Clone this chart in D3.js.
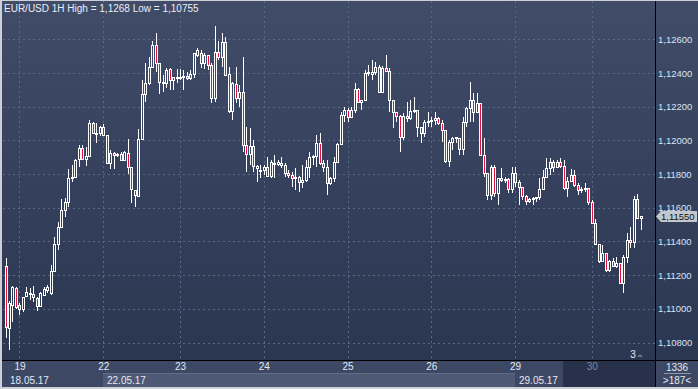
<!DOCTYPE html>
<html>
<head>
<meta charset="utf-8">
<script src="https://cdn.jsdelivr.net/npm/d3@7"></script>
<style>
body{margin:0;background:#cdd0d6;overflow:hidden}
text{font-family:"Liberation Sans",Arial,sans-serif}
</style>
</head>
<body>
<svg id="chart" width="698" height="389"></svg>
<script>
// EUR/USD hourly candles, 18.05.17 20:00 -> 30.05.17 14:00
const title="EUR/USD 1H High = 1,1268 Low = 1,10755"
const dayLabels=["18","19","22","23","24","25","26","29","30"]
const dayCandles=[4,24,22,24,24,24,24,22,15]
const weekLabels=["18.05.17","22.05.17","29.05.17"]
const weekFirstDay=[0,2,7]
const yTicks=[1.108,1.110,1.112,1.114,1.116,1.118,1.120,1.122,1.124,1.126]
const barCount="1336"
const visibleBars=">187<"

const open=[
1.11255,1.10888,1.11024,1.11125,1.11024,1.11001,1.11077,1.11095,1.11089,1.11066,
1.11018,1.11083,1.11113,1.11095,1.11226,1.11386,1.11486,1.11588,1.11635,1.11778,
1.11784,1.11891,1.11956,1.11891,1.11908,1.12103,1.12044,1.12044,1.12079,1.12032,
1.11866,1.11926,1.11914,1.11920,1.11884,1.11926,1.11842,1.11706,1.11670,1.12009,
1.12275,1.12341,1.12435,1.12566,1.12459,1.12347,1.12341,1.12424,1.12359,1.12376,
1.12376,1.12376,1.12382,1.12371,1.12394,1.12507,1.12519,1.12459,1.12507,1.12447,
1.12252,1.12525,1.12495,1.12584,1.12394,1.12175,1.12335,1.12252,1.12287,1.11973,
1.11920,1.11967,1.11837,1.11819,1.11825,1.11842,1.11789,1.11866,1.11860,1.11866,
1.11854,1.11807,1.11795,1.11778,1.11784,1.11754,1.11766,1.11842,1.11902,1.11908,
1.11985,1.11866,1.11842,1.11748,1.11778,1.11872,1.11979,1.12151,1.12181,1.12139,
1.12181,1.12305,1.12228,1.12240,1.12400,1.12394,1.12406,1.12435,1.12287,1.12430,
1.12412,1.12240,1.12169,1.12145,1.12020,1.12145,1.12133,1.12175,1.12181,1.12079,
1.12044,1.12109,1.12115,1.12121,1.12133,1.12103,1.12062,1.11878,1.11991,1.12015,
1.12015,1.11950,1.12109,1.12193,1.12240,1.12169,1.12222,1.11914,1.11807,1.11676,
1.11842,1.11688,1.11778,1.11766,1.11772,1.11713,1.11807,1.11754,1.11724,1.11670,
1.11641,1.11653,1.11659,1.11664,1.11713,1.11784,1.11837,1.11872,1.11842,1.11872,
1.11848,1.11718,1.11760,1.11795,1.11736,1.11706,1.11713,1.11718,1.11635,1.11510,
1.11386,1.11285,1.11333,1.11232,1.11285,1.11255,1.11273,1.11155,1.11309,1.11410,
1.11398,1.11653,1.11540]
const high=[
1.11304,1.11048,1.11137,1.11131,1.11036,1.11071,1.11131,1.11125,1.11137,1.11071,
1.11101,1.11131,1.11143,1.11261,1.11427,1.11516,1.11653,1.11659,1.11831,1.11854,
1.11891,1.11973,1.11973,1.11961,1.12121,1.12109,1.12103,1.12085,1.12097,1.12032,
1.11944,1.11932,1.11926,1.11932,1.11938,1.12009,1.11842,1.11706,1.12068,1.12359,
1.12459,1.12495,1.12590,1.12637,1.12459,1.12388,1.12430,1.12430,1.12376,1.12424,
1.12424,1.12418,1.12406,1.12418,1.12519,1.12549,1.12537,1.12519,1.12507,1.12459,
1.12679,1.12590,1.12637,1.12614,1.12435,1.12347,1.12435,1.12329,1.12495,1.12079,
1.12073,1.12003,1.11854,1.11854,1.11854,1.11902,1.11884,1.11914,1.11884,1.11902,
1.11866,1.11825,1.11813,1.11837,1.11789,1.11854,1.11884,1.11932,1.11914,1.12032,
1.12044,1.11884,1.11884,1.11784,1.11902,1.11985,1.12169,1.12198,1.12193,1.12198,
1.12341,1.12312,1.12240,1.12418,1.12447,1.12477,1.12465,1.12447,1.12441,1.12507,
1.12430,1.12240,1.12169,1.12151,1.12163,1.12228,1.12240,1.12258,1.12181,1.12079,
1.12121,1.12169,1.12139,1.12169,1.12139,1.12121,1.12062,1.12003,1.12020,1.12020,
1.12015,1.12139,1.12198,1.12347,1.12281,1.12281,1.12222,1.12015,1.11807,1.11854,
1.11854,1.11778,1.11837,1.11784,1.11778,1.11842,1.11842,1.11766,1.11724,1.11676,
1.11659,1.11664,1.11664,1.11778,1.11825,1.11896,1.11896,1.11884,1.11884,1.11896,
1.11884,1.11784,1.11831,1.11825,1.11748,1.11724,1.11748,1.11718,1.11647,1.11535,
1.11386,1.11380,1.11333,1.11291,1.11303,1.11309,1.11273,1.11321,1.11451,1.11486,
1.11670,1.11682,1.11552]
const low=[
1.10829,1.10755,1.10923,1.11001,1.10965,1.10983,1.11071,1.11054,1.11042,1.10989,
1.11012,1.11077,1.11095,1.11083,1.11220,1.11351,1.11486,1.11546,1.11605,1.11754,
1.11784,1.11842,1.11884,1.11848,1.11902,1.12038,1.11985,1.12026,1.12026,1.11866,
1.11831,1.11831,1.11902,1.11884,1.11878,1.11801,1.11629,1.11605,1.11664,1.12003,
1.12228,1.12329,1.12435,1.12406,1.12275,1.12287,1.12312,1.12299,1.12299,1.12341,
1.12359,1.12299,1.12359,1.12359,1.12371,1.12495,1.12430,1.12424,1.12418,1.12222,
1.12228,1.12477,1.12435,1.12388,1.12163,1.12121,1.12222,1.12198,1.11932,1.11813,
1.11854,1.11813,1.11754,1.11778,1.11795,1.11784,1.11778,1.11778,1.11848,1.11837,
1.11784,1.11778,1.11724,1.11706,1.11695,1.11718,1.11754,1.11778,1.11854,1.11842,
1.11854,1.11813,1.11676,1.11736,1.11754,1.11866,1.11973,1.12109,1.12109,1.12134,
1.12163,1.12222,1.12181,1.12240,1.12382,1.12359,1.12388,1.12281,1.12287,1.12406,
1.12169,1.12073,1.12109,1.11932,1.12003,1.12109,1.12121,1.12163,1.12020,1.11985,
1.12020,1.12079,1.12079,1.12091,1.12091,1.11991,1.11866,1.11842,1.11944,1.11985,
1.11914,1.11914,1.12079,1.12109,1.12109,1.12163,1.11914,1.11784,1.11647,1.11647,
1.11664,1.11617,1.11754,1.11748,1.11688,1.11688,1.11724,1.11617,1.11647,1.11617,
1.11629,1.11617,1.11635,1.11647,1.11706,1.11778,1.11795,1.11813,1.11837,1.11837,
1.11706,1.11664,1.11754,1.11724,1.11676,1.11688,1.11695,1.11617,1.11510,1.11380,
1.11273,1.11279,1.11220,1.11220,1.11250,1.11244,1.11149,1.11095,1.11273,1.11362,
1.11362,1.11534,1.11469]
const close=[
1.10893,1.11036,1.11131,1.11012,1.11001,1.11071,1.11101,1.11095,1.11071,1.11018,
1.11095,1.11119,1.11131,1.11226,1.11386,1.11486,1.11588,1.11635,1.11778,1.11784,
1.11884,1.11956,1.11891,1.11908,1.12103,1.12044,1.12044,1.12079,1.12032,1.11866,
1.11926,1.11914,1.11920,1.11884,1.11932,1.11842,1.11713,1.11676,1.12009,1.12275,
1.12341,1.12435,1.12566,1.12459,1.12347,1.12341,1.12418,1.12359,1.12376,1.12376,
1.12376,1.12382,1.12371,1.12394,1.12519,1.12537,1.12459,1.12507,1.12447,1.12252,
1.12525,1.12495,1.12584,1.12388,1.12175,1.12341,1.12252,1.12287,1.11973,1.11920,
1.11967,1.11848,1.11848,1.11825,1.11842,1.11789,1.11872,1.11860,1.11872,1.11854,
1.11807,1.11795,1.11778,1.11784,1.11754,1.11766,1.11842,1.11902,1.11908,1.11985,
1.11866,1.11842,1.11748,1.11778,1.11872,1.11979,1.12151,1.12181,1.12139,1.12181,
1.12305,1.12228,1.12240,1.12400,1.12406,1.12406,1.12435,1.12287,1.12430,1.12412,
1.12240,1.12169,1.12145,1.12020,1.12145,1.12133,1.12175,1.12181,1.12079,1.12044,
1.12109,1.12115,1.12121,1.12133,1.12103,1.12062,1.11878,1.11991,1.12015,1.12018,
1.11950,1.12109,1.12193,1.12240,1.12169,1.12222,1.11914,1.11807,1.11676,1.11842,
1.11688,1.11778,1.11766,1.11772,1.11713,1.11807,1.11754,1.11724,1.11670,1.11641,
1.11653,1.11659,1.11664,1.11713,1.11784,1.11837,1.11872,1.11842,1.11872,1.11848,
1.11718,1.11760,1.11795,1.11736,1.11706,1.11713,1.11718,1.11635,1.11510,1.11386,
1.11285,1.11333,1.11232,1.11285,1.11255,1.11273,1.11155,1.11309,1.11410,1.11398,
1.11653,1.11540,1.11550]

const W=698,H=389
const L=2,R=655,T=1,B=360
const n=close.length
const svg=d3.select("#chart")

// scales: candle index -> x, price -> y
const x=d3.scaleLinear().domain([0,n-1]).range([5.5,640.7])
const y=d3.scaleLinear().domain([1.108,1.126]).range([342.6,39.3])
const comma=d3.formatLocale({decimal:",",thousands:".",grouping:[3],currency:["",""]})
const fmt=comma.format(".5f")
const starts=d3.cumsum([0].concat(dayCandles)).slice(0,-1)
const px=v=>Math.round(v)+0.5

const defs=svg.append("defs")
const grad=defs.append("linearGradient").attr("id","bg").attr("x1",0).attr("y1",0).attr("x2",0).attr("y2",1)
grad.append("stop").attr("offset","0%").attr("stop-color","#404c68")
grad.append("stop").attr("offset","100%").attr("stop-color","#2b3651")
defs.append("clipPath").attr("id","clip").append("rect").attr("x",L+1).attr("y",T).attr("width",R-L-1).attr("height",B-T)

// frame + background
svg.append("rect").attr("width",W).attr("height",H).attr("fill","#cdd0d6")
svg.append("rect").attr("x",L).attr("y",T).attr("width",W-L).attr("height",B-T).attr("fill","url(#bg)")

// grid
const grid=svg.append("g").attr("stroke","#5b6885").attr("stroke-dasharray","2,3").attr("stroke-width",1)
grid.selectAll(".h").data(yTicks).enter().append("line")
  .attr("x1",L+1).attr("x2",R).attr("y1",d=>px(y(d))).attr("y2",d=>px(y(d)))
grid.selectAll(".v").data(starts.slice(1)).enter().append("line")
  .attr("x1",d=>px(x(d))).attr("x2",d=>px(x(d))).attr("y1",T).attr("y2",B)

// candles
const candles=svg.append("g").attr("clip-path","url(#clip)")
d3.range(n).forEach(function(i){
  let cx=Math.round(x(i))
  let yo=y(open[i]),yc=y(close[i])
  let top=Math.round(Math.min(yo,yc)),bot=Math.round(Math.max(yo,yc))
  let hi=Math.round(y(high[i])),lo=Math.round(y(low[i]))
  let down=close[i]<open[i]
  candles.append("path")
    .attr("d",`M${cx+0.5},${hi}V${top}M${cx+0.5},${bot}V${lo}`)
    .attr("stroke","#ffffff").attr("stroke-width",1)
  candles.append("rect")
    .attr("x",cx-0.5).attr("y",top+0.5).attr("width",2).attr("height",Math.max(bot-top,1))
    .attr("fill",down?"#e3123c":"none").attr("stroke","#ffffff").attr("stroke-width",1)
})

// title
svg.append("text").text(title).attr("x",4).attr("y",12).attr("fill","#e9eef7").style("font-size","10px")

// right price axis
const yAxis=d3.axisRight(y).tickValues(yTicks).tickFormat(fmt).tickSize(0).tickPadding(3)
const ya=svg.append("g").attr("transform",`translate(${R},0)`).call(yAxis)
ya.select(".domain").remove()
ya.selectAll("text").attr("fill","#d9e4f4").style("font-size","9.5px").style("font-family","Liberation Sans, Arial, sans-serif")

// last price tag
let ly=Math.round(y(close[n-1]))
svg.append("path").attr("d",`M${R+1},${ly+0.5}L${R+6},${ly-5}H${W-1}V${ly+6}H${R+6}Z`).attr("fill","#c3c7ce")
svg.append("text").text(fmt(close[n-1])).attr("x",R+6).attr("y",ly+4).attr("fill","#111").style("font-size","9.5px")

// bottom time axis
svg.append("rect").attr("x",L).attr("y",B+1).attr("width",R-L).attr("height",12).attr("fill","#3c4864")
weekLabels.forEach(function(w,k){
  let x0=k==0?L:px(x(starts[weekFirstDay[k]]))-0.5
  let x1=k==weekLabels.length-1?563:(px(x(starts[weekFirstDay[k+1]]))-0.5)
  svg.append("rect").attr("x",x0).attr("y",B+13).attr("width",x1-x0).attr("height",14)
    .attr("fill",k%2==1?"#4d5975":"#3c4864")
  if(k%2==1) svg.append("line").attr("x1",x0).attr("x2",x1).attr("y1",B+13.5).attr("y2",B+13.5).attr("stroke","#5f6b87")
  svg.append("text").text(w).attr("x",k==0?10:x0+4).attr("y",B+24).attr("fill","#e3e9f4").style("font-size","10px")
})
svg.append("rect").attr("x",563).attr("y",B+1).attr("width",R-563).attr("height",26).attr("fill","#27314a")
const xAxis=d3.axisBottom(x).tickValues(starts.slice(1)).tickFormat(d=>dayLabels[starts.indexOf(d)]).tickSize(0).tickPadding(3)
const xa=svg.append("g").attr("transform",`translate(0,${B})`).call(xAxis)
xa.select(".domain").remove()
xa.selectAll("text").attr("fill",d=>x(d)>563?"#7d889f":"#e3e9f4").style("font-size","10px").style("font-family","Liberation Sans, Arial, sans-serif")

// corner box
svg.append("rect").attr("x",R+1).attr("y",B+1).attr("width",W-R-1).attr("height",26).attr("fill","#3c4864")
svg.append("text").text(barCount).attr("x",677).attr("y",B+11).attr("text-anchor","middle").attr("fill","#e3e9f4").style("font-size","10px")
svg.append("line").attr("x1",664).attr("x2",691).attr("y1",B+13.5).attr("y2",B+13.5).attr("stroke","#8e99ae")
svg.append("text").text(visibleBars).attr("x",677).attr("y",B+24).attr("text-anchor","middle").attr("fill","#e3e9f4").style("font-size","10px")

// separators
svg.append("line").attr("x1",L).attr("x2",W).attr("y1",B+0.5).attr("y2",B+0.5).attr("stroke","#000")
svg.append("line").attr("x1",R+0.5).attr("x2",R+0.5).attr("y1",T).attr("y2",B+27).attr("stroke","#000")

// scroll marker
svg.append("text").text("3").attr("x",633).attr("y",B-2).attr("text-anchor","middle").attr("fill","#e3e9f4").style("font-size","10px")
svg.append("path").attr("d",`M637,${B-3}L640,${B-6}L643,${B-3}Z`).attr("fill","#6c778d")
</script>
</body>
</html>
